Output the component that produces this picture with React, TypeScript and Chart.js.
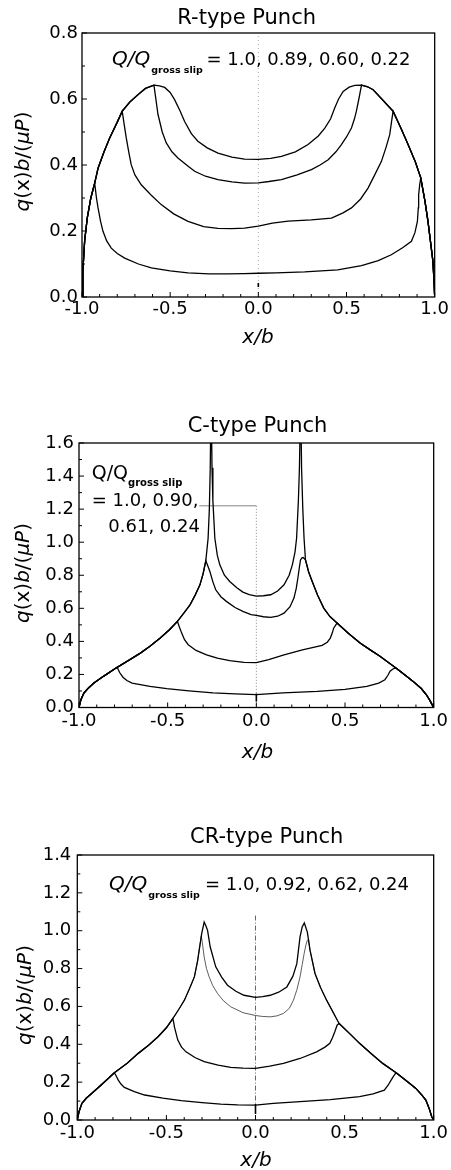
import React, { useEffect, useRef } from "react";
import { Chart, registerables } from "chart.js";

Chart.register(...registerables);

type Pt = [number, number];

// ---------------- shared axis data ----------------
const X_TICKS = [-1, -0.5, 0, 0.5, 1];
const X_MIN = -1;
const X_MAX = 1;
const MINOR_STEP = 0.1;

// ---------------- R-type punch ----------------
const R_Q_VALUES = ["1.0", "0.89", "0.60", "0.22"];
const R_Y_TICKS = [0, 0.2, 0.4, 0.6, 0.8];
const R_Y_MAX = 0.8;
const R_FULL: Pt[] = [
  [-1.0, 0.0], [-0.995, 0.08], [-0.985, 0.17], [-0.97, 0.24], [-0.95, 0.3], [-0.928, 0.345],
  [-0.909, 0.39], [-0.875, 0.44], [-0.843, 0.482], [-0.8, 0.53], [-0.772, 0.563], [-0.73, 0.59],
  [-0.683, 0.613], [-0.64, 0.632], [-0.592, 0.642], [-0.56, 0.64], [-0.531, 0.635], [-0.5, 0.62],
  [-0.475, 0.598], [-0.445, 0.565], [-0.418, 0.532], [-0.38, 0.495], [-0.343, 0.472], [-0.29, 0.452],
  [-0.229, 0.436], [-0.15, 0.424], [-0.078, 0.418], [0.0, 0.417], [0.07, 0.42], [0.131, 0.426],
  [0.21, 0.44], [0.282, 0.462], [0.34, 0.488], [0.377, 0.512], [0.41, 0.54], [0.433, 0.573],
  [0.455, 0.6], [0.481, 0.623], [0.515, 0.636], [0.547, 0.641], [0.585, 0.642], [0.62, 0.637],
  [0.651, 0.628], [0.7, 0.6], [0.764, 0.563], [0.81, 0.51], [0.849, 0.462], [0.89, 0.41],
  [0.921, 0.361], [0.945, 0.29], [0.962, 0.229], [0.978, 0.16], [0.99, 0.108], [0.996, 0.05], [1.0, 0.0],
];
const R_Q089: Pt[] = [
  [-0.592, 0.642], [-0.569, 0.553], [-0.545, 0.5], [-0.522, 0.467], [-0.49, 0.44], [-0.456, 0.421],
  [-0.4, 0.397], [-0.361, 0.381], [-0.3, 0.366], [-0.229, 0.356], [-0.15, 0.349], [-0.078, 0.345],
  [0.0, 0.346], [0.06, 0.35], [0.131, 0.356], [0.22, 0.37], [0.301, 0.386], [0.35, 0.4], [0.396, 0.416],
  [0.44, 0.44], [0.471, 0.462], [0.5, 0.485], [0.528, 0.512], [0.545, 0.54], [0.556, 0.563],
  [0.57, 0.6], [0.585, 0.642],
];
const R_Q060: Pt[] = [
  [-0.772, 0.563], [-0.76, 0.52], [-0.749, 0.482], [-0.735, 0.44], [-0.721, 0.401], [-0.7, 0.37],
  [-0.664, 0.34], [-0.61, 0.31], [-0.551, 0.28], [-0.48, 0.252], [-0.399, 0.229], [-0.31, 0.213],
  [-0.229, 0.208], [-0.15, 0.207], [-0.078, 0.209], [0.0, 0.215], [0.08, 0.224], [0.169, 0.23],
  [0.3, 0.234], [0.415, 0.239], [0.48, 0.255], [0.528, 0.27], [0.58, 0.297], [0.622, 0.33],
  [0.66, 0.37], [0.698, 0.411], [0.725, 0.455], [0.745, 0.492], [0.755, 0.53], [0.764, 0.563],
];
const R_Q022: Pt[] = [
  [-0.928, 0.345], [-0.918, 0.3], [-0.909, 0.27], [-0.895, 0.23], [-0.881, 0.199], [-0.86, 0.17],
  [-0.834, 0.148], [-0.8, 0.132], [-0.758, 0.118], [-0.68, 0.1], [-0.607, 0.088], [-0.5, 0.079],
  [-0.399, 0.073], [-0.28, 0.07], [-0.173, 0.07], [-0.08, 0.071], [0.0, 0.072], [0.1, 0.073],
  [0.263, 0.076], [0.45, 0.082], [0.585, 0.095], [0.68, 0.11], [0.754, 0.128], [0.82, 0.15],
  [0.868, 0.169], [0.888, 0.195], [0.902, 0.229], [0.907, 0.27], [0.909, 0.31], [0.915, 0.34], [0.921, 0.361],
];

// ---------------- C-type punch ----------------
const C_Q_VALUES = ["1.0", "0.90", "0.61", "0.24"];
const C_Y_TICKS = [0, 0.2, 0.4, 0.6, 0.8, 1.0, 1.2, 1.4, 1.6];
const C_Y_MAX = 1.6;
const C_FULL: Pt[] = [
  [-1.0, 0.0], [-0.99, 0.045], [-0.972, 0.088], [-0.945, 0.12], [-0.916, 0.148], [-0.86, 0.19],
  [-0.785, 0.243], [-0.72, 0.285], [-0.654, 0.329], [-0.6, 0.37], [-0.542, 0.42], [-0.49, 0.47],
  [-0.445, 0.521], [-0.41, 0.57], [-0.374, 0.621], [-0.345, 0.68], [-0.318, 0.742], [-0.3, 0.81],
  [-0.285, 0.887], [-0.272, 1.024], [-0.265, 1.2], [-0.26, 1.45], [-0.255, 1.9], [-0.25, 1.45],
  [-0.245, 1.25], [-0.234, 1.024], [-0.22, 0.92], [-0.206, 0.863], [-0.18, 0.8], [-0.15, 0.762],
  [-0.11, 0.725], [-0.076, 0.698], [-0.04, 0.683], [0.0, 0.674], [0.04, 0.676], [0.081, 0.682],
  [0.12, 0.705], [0.156, 0.742], [0.185, 0.8], [0.203, 0.863], [0.218, 0.94], [0.227, 1.024],
  [0.237, 1.25], [0.243, 1.45], [0.25, 1.9], [0.255, 1.45], [0.262, 1.2], [0.269, 1.024],
  [0.277, 0.893], [0.295, 0.82], [0.315, 0.762], [0.345, 0.68], [0.38, 0.601], [0.415, 0.55],
  [0.455, 0.511], [0.52, 0.448], [0.585, 0.39], [0.64, 0.35], [0.697, 0.31], [0.787, 0.239],
  [0.84, 0.195], [0.884, 0.158], [0.93, 0.115], [0.959, 0.077], [0.98, 0.04], [0.996, 0.007], [1.0, 0.0],
];
const C_Q090: Pt[] = [
  [-0.285, 0.887], [-0.275, 0.86], [-0.262, 0.823], [-0.245, 0.76], [-0.229, 0.712], [-0.2, 0.67],
  [-0.169, 0.642], [-0.12, 0.605], [-0.076, 0.581], [-0.03, 0.562], [0.0, 0.557], [0.04, 0.549],
  [0.081, 0.545], [0.12, 0.552], [0.156, 0.571], [0.19, 0.61], [0.212, 0.662], [0.225, 0.72],
  [0.234, 0.782], [0.243, 0.85], [0.249, 0.893], [0.257, 0.905], [0.264, 0.907], [0.277, 0.893],
];
const C_Q061: Pt[] = [
  [-0.445, 0.521], [-0.435, 0.49], [-0.421, 0.45], [-0.405, 0.41], [-0.384, 0.38], [-0.34, 0.345],
  [-0.281, 0.319], [-0.22, 0.298], [-0.15, 0.283], [-0.07, 0.273], [0.0, 0.271], [0.07, 0.29],
  [0.156, 0.319], [0.26, 0.348], [0.371, 0.376], [0.4, 0.395], [0.417, 0.42], [0.428, 0.45],
  [0.436, 0.48], [0.455, 0.511],
];
const C_Q024: Pt[] = [
  [-0.785, 0.243], [-0.77, 0.21], [-0.752, 0.183], [-0.73, 0.163], [-0.701, 0.148], [-0.6, 0.128],
  [-0.505, 0.114], [-0.38, 0.1], [-0.244, 0.088], [-0.12, 0.082], [0.0, 0.078], [0.15, 0.088],
  [0.343, 0.098], [0.5, 0.11], [0.623, 0.128], [0.69, 0.148], [0.725, 0.168], [0.742, 0.195],
  [0.754, 0.219], [0.77, 0.233], [0.787, 0.239],
];

// ---------------- CR-type punch ----------------
const CR_Q_VALUES = ["1.0", "0.92", "0.62", "0.24"];
const CR_Y_TICKS = [0, 0.2, 0.4, 0.6, 0.8, 1.0, 1.2, 1.4];
const CR_Y_MAX = 1.4;
const CR_FULL: Pt[] = [
  [-1.0, 0.0], [-0.99, 0.045], [-0.974, 0.088], [-0.95, 0.115], [-0.918, 0.141], [-0.86, 0.19],
  [-0.792, 0.25], [-0.72, 0.3], [-0.658, 0.352], [-0.6, 0.395], [-0.547, 0.44], [-0.5, 0.487],
  [-0.464, 0.536], [-0.43, 0.585], [-0.399, 0.633], [-0.37, 0.695], [-0.343, 0.756], [-0.325, 0.84],
  [-0.316, 0.897], [-0.302, 0.985], [-0.288, 1.046], [-0.278, 1.025], [-0.269, 1.002], [-0.254, 0.914],
  [-0.223, 0.809], [-0.19, 0.755], [-0.157, 0.712], [-0.11, 0.68], [-0.065, 0.659], [0.0, 0.648],
  [0.04, 0.652], [0.083, 0.659], [0.13, 0.675], [0.176, 0.703], [0.21, 0.76], [0.232, 0.826],
  [0.25, 0.967], [0.262, 1.02], [0.274, 1.041], [0.291, 0.993], [0.306, 0.897], [0.334, 0.774],
  [0.365, 0.7], [0.399, 0.633], [0.435, 0.57], [0.469, 0.51], [0.53, 0.455], [0.584, 0.405],
  [0.65, 0.35], [0.714, 0.299], [0.789, 0.25], [0.85, 0.205], [0.9, 0.167], [0.935, 0.13],
  [0.956, 0.105], [0.975, 0.06], [0.989, 0.017], [1.0, 0.0],
];
const CR_Q092: Pt[] = [
  [-0.304, 0.972], [-0.296, 0.92], [-0.288, 0.861], [-0.275, 0.8], [-0.26, 0.756], [-0.24, 0.71],
  [-0.213, 0.668], [-0.18, 0.63], [-0.139, 0.598], [-0.07, 0.567], [0.0, 0.552], [0.04, 0.547],
  [0.083, 0.545], [0.12, 0.55], [0.157, 0.563], [0.19, 0.59], [0.213, 0.633], [0.233, 0.69],
  [0.25, 0.756], [0.262, 0.82], [0.273, 0.879], [0.283, 0.925], [0.291, 0.95], [0.298, 0.95],
];
const CR_Q062: Pt[] = [
  [-0.464, 0.536], [-0.458, 0.51], [-0.455, 0.492], [-0.445, 0.455], [-0.436, 0.422], [-0.415, 0.385],
  [-0.39, 0.36], [-0.34, 0.33], [-0.288, 0.308], [-0.21, 0.29], [-0.139, 0.278], [-0.07, 0.274],
  [0.0, 0.273], [0.08, 0.285], [0.157, 0.299], [0.25, 0.325], [0.343, 0.36], [0.39, 0.385],
  [0.417, 0.405], [0.432, 0.435], [0.445, 0.466], [0.458, 0.501], [0.469, 0.51],
];
const CR_Q024: Pt[] = [
  [-0.792, 0.25], [-0.78, 0.23], [-0.77, 0.211], [-0.755, 0.19], [-0.736, 0.172], [-0.68, 0.15],
  [-0.622, 0.132], [-0.52, 0.115], [-0.417, 0.102], [-0.3, 0.092], [-0.195, 0.084], [-0.1, 0.08],
  [0.0, 0.079], [0.1, 0.088], [0.25, 0.097], [0.42, 0.108], [0.584, 0.123], [0.66, 0.138],
  [0.723, 0.158], [0.745, 0.185], [0.761, 0.211], [0.775, 0.232], [0.789, 0.25],
];

// A partial-slip curve follows the full-slip curve in the slip zones and the stick-zone data in between.
function partialSlip(full: Pt[], stick: Pt[]): Pt[] {
  const a = stick[0][0];
  const b = stick[stick.length - 1][0];
  return [...full.filter((p) => p[0] < a), ...stick, ...full.filter((p) => p[0] > b)];
}

// ---------------- styling / layout ----------------
const FAM = "'DejaVu Sans', 'Liberation Sans', sans-serif";
const fN = (s: number) => `${s}px ${FAM}`;
const fI = (s: number) => `italic ${s}px ${FAM}`;
const fB = (s: number) => `bold ${s}px ${FAM}`;
const W = 451;

interface Piece { text: string; x: number; y: number; font: string; align?: CanvasTextAlign; after?: number }
interface Guide { x0: number; y0: number; x1: number; y1: number; dash: number[]; color: string; width: number }
interface PanelCfg {
  key: string;
  top: number;
  height: number;
  area: { left: number; top: number; right: number; bottom: number };
  yMax: number;
  yTicks: number[];
  series: Pt[][];
  widths: number[];
  colors: string[];
  yLabelPad: number;
  xLabelPad: number;
  texts: Piece[];
  guides: Guide[];
  yTitle: { x: number; y: number };
  marker: [number, number];
}

const Y_TITLE_PARTS: [string, boolean][] = [
  ["q", true], ["(x)", false], ["b", true], ["/(", false], ["\u03bcP", true], [")", false],
];

// "after": the piece is placed right after the previous piece, with this gap (px)
const PANELS: PanelCfg[] = [
  {
    key: "r",
    top: 0,
    height: 380,
    area: { left: 82, top: 33, right: 435, bottom: 297 },
    yMax: R_Y_MAX,
    yTicks: R_Y_TICKS,
    series: [R_FULL, partialSlip(R_FULL, R_Q089), partialSlip(R_FULL, R_Q060), partialSlip(R_FULL, R_Q022)],
    widths: [1.3, 1.3, 1.3, 1.3],
    colors: ["#000", "#000", "#000", "#000"],
    yLabelPad: 4,
    xLabelPad: 2,
    texts: [
      { text: "R-type Punch", x: 246.7, y: 24, font: fN(21), align: "center" },
      { text: "Q/Q", x: 112, y: 65, font: fI(20) },
      { text: "gross slip", x: 0, y: 73, font: fB(9.5), after: 1 },
      { text: "= " + R_Q_VALUES.join(", "), x: 206.5, y: 65, font: fN(18) },
      { text: "x/b", x: 258, y: 343, font: fI(20), align: "center" },
    ],
    guides: [{ x0: 0, y0: 0, x1: 0, y1: 0.8, dash: [1, 3], color: "#aaa", width: 1 }],
    yTitle: { x: 29, y: 161.5 },
    marker: [10, 14],
  },
  {
    key: "c",
    top: 380,
    height: 400,
    area: { left: 79, top: 63, right: 436.5, bottom: 327.5 },
    yMax: C_Y_MAX,
    yTicks: C_Y_TICKS,
    series: [C_FULL, partialSlip(C_FULL, C_Q090), partialSlip(C_FULL, C_Q061), partialSlip(C_FULL, C_Q024)],
    widths: [1.3, 1.3, 1.3, 1.3],
    colors: ["#000", "#000", "#000", "#000"],
    yLabelPad: 5,
    xLabelPad: 3,
    texts: [
      { text: "C-type Punch", x: 257.5, y: 51.5, font: fN(21), align: "center" },
      { text: "Q/Q", x: 91.7, y: 98.5, font: fN(19) },
      { text: "gross slip", x: 0, y: 105.5, font: fB(10), after: 0 },
      { text: "= " + C_Q_VALUES.slice(0, 2).join(", ") + ",", x: 91.7, y: 126.3, font: fN(18) },
      { text: C_Q_VALUES.slice(2).join(", "), x: 108.3, y: 151.5, font: fN(18) },
      { text: "x/b", x: 257.5, y: 377.5, font: fI(20), align: "center" },
    ],
    guides: [
      { x0: -0.322, y0: 1.22, x1: 0, y1: 1.22, dash: [], color: "#666", width: 0.8 },
      { x0: 0, y0: 1.22, x1: 0, y1: 0, dash: [1, 2], color: "#888", width: 1 },
    ],
    yTitle: { x: 29, y: 193 },
    marker: [6, 14],
  },
  {
    key: "cr",
    top: 780,
    height: 390,
    area: { left: 77.3, top: 75, right: 436.7, bottom: 340 },
    yMax: CR_Y_MAX,
    yTicks: CR_Y_TICKS,
    series: [CR_FULL, partialSlip(CR_FULL, CR_Q092), partialSlip(CR_FULL, CR_Q062), partialSlip(CR_FULL, CR_Q024)],
    widths: [1.3, 0.8, 1.3, 1.3],
    colors: ["#000", "#333", "#000", "#000"],
    yLabelPad: 6,
    xLabelPad: 3,
    texts: [
      { text: "CR-type Punch", x: 266.7, y: 63.3, font: fN(21), align: "center" },
      { text: "Q/Q", x: 109, y: 110, font: fI(20) },
      { text: "gross slip", x: 0, y: 117.5, font: fB(9.5), after: 1 },
      { text: "= " + CR_Q_VALUES.join(", "), x: 205, y: 110, font: fN(18) },
      { text: "x/b", x: 256, y: 386, font: fI(20), align: "center" },
    ],
    guides: [{ x0: 0, y0: 1.08, x1: 0, y1: 0, dash: [5, 2, 1, 2], color: "#555", width: 0.9 }],
    yTitle: { x: 31, y: 215 },
    marker: [6, 16],
  },
];

function makeDecor(cfg: PanelCfg) {
  return {
    id: "decor_" + cfg.key,
    beforeDatasetsDraw(chart: any) {
      const { ctx } = chart;
      const xs = chart.scales.x;
      const ys = chart.scales.y;
      ctx.save();
      for (const g of cfg.guides) {
        ctx.beginPath();
        ctx.strokeStyle = g.color;
        ctx.lineWidth = g.width;
        ctx.setLineDash(g.dash);
        ctx.moveTo(xs.getPixelForValue(g.x0), ys.getPixelForValue(g.y0));
        ctx.lineTo(xs.getPixelForValue(g.x1), ys.getPixelForValue(g.y1));
        ctx.stroke();
      }
      ctx.setLineDash([]);
      const x0 = xs.getPixelForValue(0);
      const yb = ys.getPixelForValue(0);
      ctx.beginPath();
      ctx.strokeStyle = "#000";
      ctx.lineWidth = 1.6;
      ctx.moveTo(x0, yb - cfg.marker[0]);
      ctx.lineTo(x0, yb - cfg.marker[1]);
      ctx.stroke();
      ctx.restore();
    },
    afterDraw(chart: any) {
      const { ctx, chartArea } = chart;
      const xs = chart.scales.x;
      const ys = chart.scales.y;
      const { left, top, right, bottom } = chartArea;
      ctx.save();
      ctx.strokeStyle = "#000";
      ctx.lineWidth = 1.3;
      ctx.strokeRect(left, top, right - left, bottom - top);
      ctx.lineWidth = 1;
      ctx.beginPath();
      const nx = Math.round((X_MAX - X_MIN) / MINOR_STEP);
      for (let i = 0; i <= nx; i++) {
        const v = X_MIN + i * MINOR_STEP;
        const px = xs.getPixelForValue(v);
        const len = i % 5 === 0 ? 5 : 3;
        ctx.moveTo(px, bottom);
        ctx.lineTo(px, bottom - len);
      }
      const ny = Math.round(cfg.yMax / MINOR_STEP);
      for (let i = 0; i <= ny; i++) {
        const py = ys.getPixelForValue(i * MINOR_STEP);
        const len = i % 2 === 0 ? 5 : 3;
        ctx.moveTo(left, py);
        ctx.lineTo(left + len, py);
      }
      ctx.stroke();
      ctx.fillStyle = "#000";
      ctx.textBaseline = "alphabetic";
      let prevEnd = 0;
      for (const t of cfg.texts) {
        ctx.font = t.font;
        ctx.textAlign = t.align || "left";
        const x = t.after !== undefined ? prevEnd + t.after : t.x;
        ctx.fillText(t.text, x, t.y);
        prevEnd = x + ctx.measureText(t.text).width;
      }
      ctx.translate(cfg.yTitle.x, cfg.yTitle.y);
      ctx.rotate(-Math.PI / 2);
      ctx.textAlign = "left";
      let total = 0;
      for (const [s, it] of Y_TITLE_PARTS) {
        ctx.font = it ? fI(20) : fN(20);
        total += ctx.measureText(s).width;
      }
      let x = -total / 2;
      for (const [s, it] of Y_TITLE_PARTS) {
        ctx.font = it ? fI(20) : fN(20);
        ctx.fillText(s, x, 0);
        x += ctx.measureText(s).width;
      }
      ctx.restore();
    },
  };
}

function Panel({ cfg }: { cfg: PanelCfg }) {
  const ref = useRef<HTMLCanvasElement>(null);
  useEffect(() => {
    const canvas = ref.current!;
    const a = cfg.area;
    const chart = new Chart(canvas, {
      type: "line",
      data: {
        datasets: cfg.series.map((s, i) => ({
          data: s.map(([x, y]) => ({ x, y })),
          borderColor: cfg.colors[i],
          borderWidth: cfg.widths[i],
          pointRadius: 0,
          fill: false,
          tension: 0,
          clip: 0,
        })),
      },
      options: {
        responsive: false,
        animation: false,
        events: [],
        layout: {
          autoPadding: false,
          padding: { left: 0, top: a.top, right: W - a.right, bottom: 0 },
        },
        plugins: {
          legend: { display: false },
          tooltip: { enabled: false },
          title: { display: false },
        },
        scales: {
          x: {
            type: "linear",
            min: X_MIN,
            max: X_MAX,
            afterFit: (s: any) => {
              s.height = cfg.height - a.bottom;
            },
            afterBuildTicks: (s: any) => {
              s.ticks = X_TICKS.map((v) => ({ value: v }));
            },
            grid: { display: false, drawTicks: false },
            border: { display: false },
            ticks: {
              autoSkip: false,
              maxRotation: 0,
              padding: cfg.xLabelPad,
              color: "#000",
              font: { family: FAM, size: 18 },
              callback: (v: any) => Number(v).toFixed(1),
            },
          },
          y: {
            type: "linear",
            min: 0,
            max: cfg.yMax,
            afterFit: (s: any) => {
              s.width = a.left;
            },
            afterBuildTicks: (s: any) => {
              s.ticks = cfg.yTicks.map((v) => ({ value: v }));
            },
            grid: { display: false, drawTicks: false },
            border: { display: false },
            ticks: {
              autoSkip: false,
              padding: cfg.yLabelPad,
              color: "#000",
              font: { family: FAM, size: 18 },
              callback: (v: any) => Number(v).toFixed(1),
            },
          },
        },
      },
      plugins: [makeDecor(cfg)],
    } as any);
    return () => chart.destroy();
  }, [cfg]);
  return (
    <canvas
      ref={ref}
      width={W}
      height={cfg.height}
      style={{ position: "absolute", left: 0, top: cfg.top, width: W, height: cfg.height }}
    />
  );
}

export default function App() {
  return (
    <div style={{ position: "absolute", left: 0, top: 0, width: W, height: 1170, background: "#fff" }}>
      {PANELS.map((p) => (
        <Panel key={p.key} cfg={p} />
      ))}
    </div>
  );
}
